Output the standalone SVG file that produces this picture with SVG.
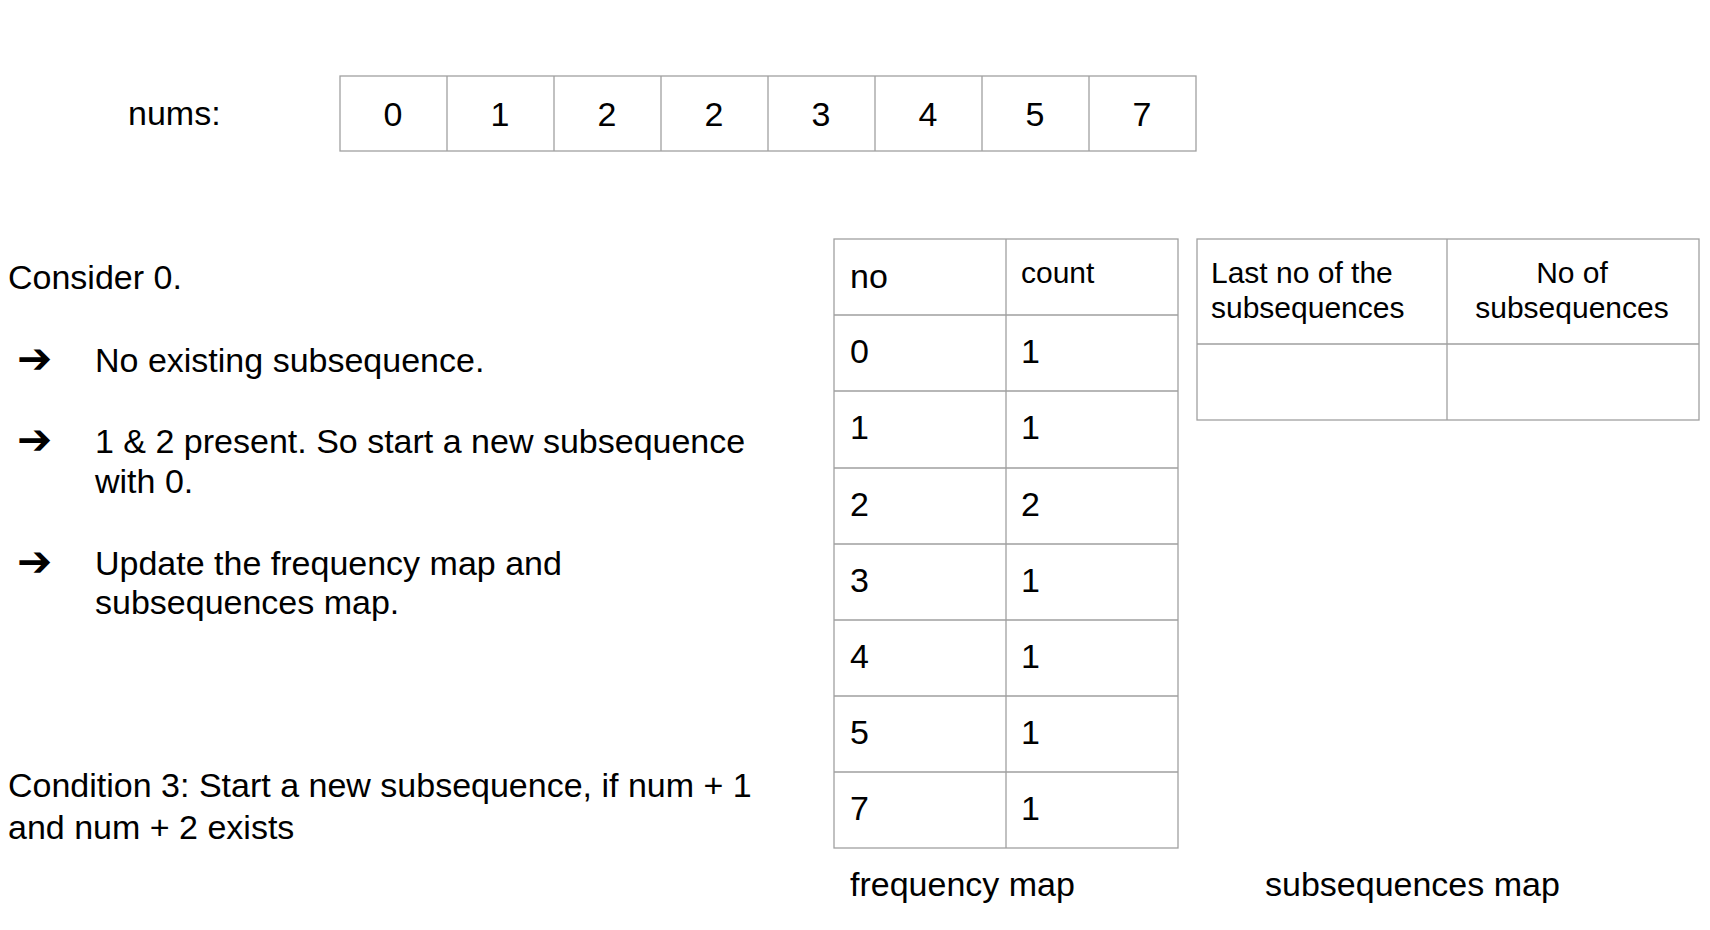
<svg xmlns="http://www.w3.org/2000/svg" width="1710" height="930" viewBox="0 0 1710 930">
<style>
  .t { font-family: "Liberation Sans", Arial, sans-serif; font-size: 34px; fill: #000; }
  .s { font-family: "Liberation Sans", Arial, sans-serif; font-size: 30px; fill: #000; }
  .c { text-anchor: middle; }
  .arr { font-family: "DejaVu Sans", sans-serif; font-size: 42px; fill: #000; }
  .grid { fill: none; stroke: #a0a0a0; stroke-width: 1.3; }
</style>
<rect x="0" y="0" width="1710" height="930" fill="#fff"/>

<g id="nums-label"><text class="t" x="128" y="125">nums:</text></g>

<g id="nums-array">
  <rect class="grid" x="340" y="76" width="856" height="75"/>
  <path class="grid" d="M447 76V151M554 76V151M661 76V151M768 76V151M875 76V151M982 76V151M1089 76V151"/>
  <g class="t c">
    <text x="393" y="126">0</text>
    <text x="500" y="126">1</text>
    <text x="607" y="126">2</text>
    <text x="714" y="126">2</text>
    <text x="821" y="126">3</text>
    <text x="928" y="126">4</text>
    <text x="1035" y="126">5</text>
    <text x="1142" y="126">7</text>
  </g>
</g>

<g id="explanation">
  <text class="t" x="8" y="289">Consider 0.</text>
  <text class="arr" x="17" y="373">➔</text>
  <text class="t" x="95" y="372">No existing subsequence.</text>
  <text class="arr" x="17" y="454">➔</text>
  <text class="t" x="95" y="453">1 &amp; 2 present. So start a new subsequence</text>
  <text class="t" x="95" y="493">with 0.</text>
  <text class="arr" x="17" y="576">➔</text>
  <text class="t" x="95" y="575">Update the frequency map and</text>
  <text class="t" x="95" y="614">subsequences map.</text>
</g>

<g id="condition">
  <text class="t" x="8" y="797">Condition 3: Start a new subsequence, if num + 1</text>
  <text class="t" x="8" y="839">and num + 2 exists</text>
</g>

<g id="frequency-map">
  <rect class="grid" x="834" y="239" width="344" height="609"/>
  <path class="grid" d="M1006 239V848M834 315H1178M834 391H1178M834 468H1178M834 544H1178M834 620H1178M834 696H1178M834 772H1178"/>
  <text class="t" x="850" y="288">no</text>
  <text class="s" x="1021" y="283">count</text>
  <g class="t">
    <text x="850" y="363">0</text><text x="1021" y="363">1</text>
    <text x="850" y="439">1</text><text x="1021" y="439">1</text>
    <text x="850" y="516">2</text><text x="1021" y="516">2</text>
    <text x="850" y="592">3</text><text x="1021" y="592">1</text>
    <text x="850" y="668">4</text><text x="1021" y="668">1</text>
    <text x="850" y="744">5</text><text x="1021" y="744">1</text>
    <text x="850" y="820">7</text><text x="1021" y="820">1</text>
  </g>
  <text class="t" x="850" y="896">frequency map</text>
</g>

<g id="subsequences-map">
  <rect class="grid" x="1197" y="239" width="502" height="181"/>
  <path class="grid" d="M1447 239V420M1197 344H1699"/>
  <text class="s" x="1211" y="283">Last no of the</text>
  <text class="s" x="1211" y="318">subsequences</text>
  <text class="s c" x="1572" y="283">No of</text>
  <text class="s c" x="1572" y="318">subsequences</text>
  <text class="t" x="1265" y="896">subsequences map</text>
</g>

<g id="connectors"></g>
</svg>
